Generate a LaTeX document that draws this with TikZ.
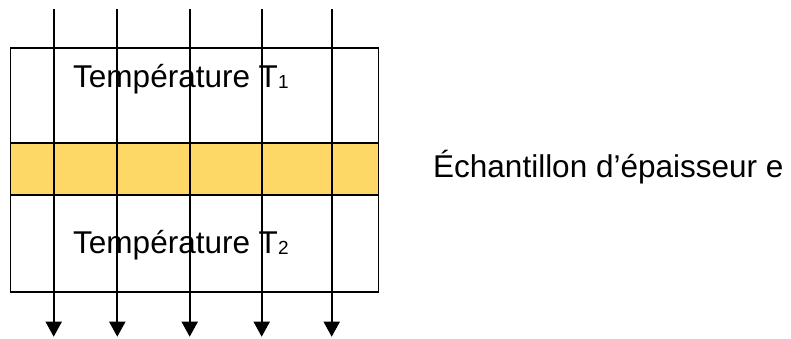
\documentclass[tikz,border=0pt]{standalone}
\usepackage{fontspec}
\setmainfont{Liberation Sans}
\usetikzlibrary{arrows.meta}
\definecolor{bandyellow}{HTML}{FDD866}
\tikzset{
  cell/.style={draw=black, line width=1.8pt, inner sep=0pt, anchor=north west},
  label/.style={inner sep=0pt, anchor=base west, font=\fontsize{31.5}{37}\selectfont},
  flux/.style={draw=black, line width=1.8pt, -{Triangle[width=16pt,length=15pt]}}
}
\begin{document}
\begin{tikzpicture}[x=1pt,y=-1pt]
\useasboundingbox (0,0) rectangle (791,338);
\node[cell, minimum width=368pt, minimum height=94.7pt] (upper) at (9.5,47) {};
\node[cell, fill=bandyellow, minimum width=368pt, minimum height=52.6pt] (band) at (9.5,141.7) {};
\node[cell, minimum width=368pt, minimum height=96.4pt] (lower) at (9.5,194.3) {};
\node[label] (t1) at (73,87) {Température T\raisebox{-1pt}{\fontsize{19}{22}\selectfont 1}};
\node[label] (t2) at (73,253) {Température T\raisebox{-1pt}{\fontsize{19}{22}\selectfont 2}};
\node[label] (ech) at (433,177) {Échantillon d’épaisseur e};
\foreach \i/\x in {1/53.7,2/117.3,3/189.7,4/261.7,5/331.7}{
  \coordinate (top\i) at (\x,9);
  \coordinate (bot\i) at (\x,336.7);
  \draw[flux] (top\i) -- (bot\i);
}
\end{tikzpicture}
\end{document}
